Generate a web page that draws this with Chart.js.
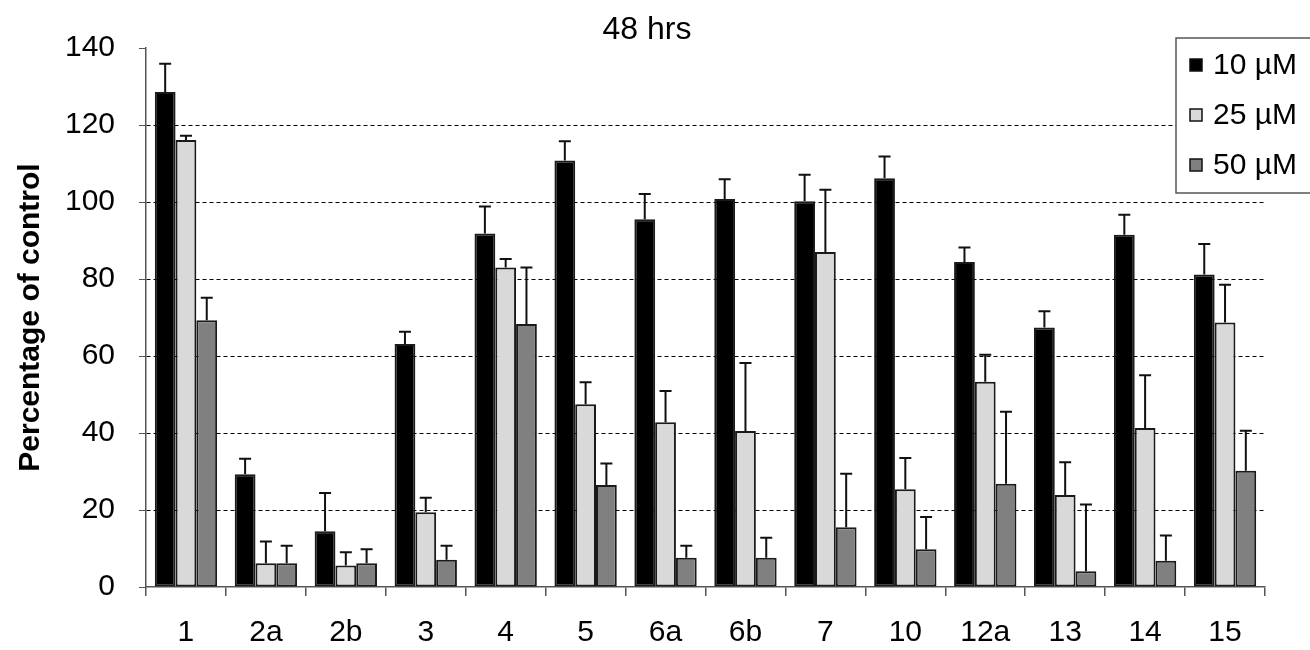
<!DOCTYPE html>
<html>
<head>
<meta charset="utf-8">
<script src="https://cdn.jsdelivr.net/npm/chart.js@4"></script>
<style>
  html, body { margin: 0; padding: 0; background: #fff; }
  #wrap { width: 1310px; height: 650px; position: relative; }
</style>
</head>
<body>
<div id="wrap"><canvas id="chart"></canvas></div>
<script>
// compounds on the x axis
const categories = ['1', '2a', '2b', '3', '4', '5', '6a', '6b', '7', '10', '12a', '13', '14', '15'];

// mean values (% of control)
const v10 = [128.6, 29.3, 14.5, 63.1, 91.8, 110.8, 95.5, 100.8, 100.2, 106.2, 84.4, 67.4, 91.5, 81.2];
const v25 = [116.1, 6.2, 5.6, 19.4, 83.0, 47.5, 42.8, 40.5, 87.0, 25.4, 53.3, 23.9, 41.3, 68.7];
const v50 = [69.3, 6.2, 6.2, 7.1, 68.3, 26.5, 7.6, 7.6, 15.5, 9.8, 26.8, 4.1, 6.8, 30.2];

// upper error (SD)
const err10 = [7.3, 4.0, 9.9, 3.2, 7.0, 5.0, 6.6, 5.1, 6.9, 5.6, 3.8, 4.2, 5.2, 7.9];
const err25 = [1.1, 5.6, 3.4, 3.8, 2.2, 5.7, 8.1, 17.7, 16.2, 8.1, 7.0, 8.5, 13.7, 9.8];
const err50 = [5.8, 4.5, 3.6, 3.6, 14.7, 5.6, 3.1, 5.2, 13.9, 8.4, 18.7, 17.3, 6.6, 10.4];

const yTicks = [0, 20, 40, 60, 80, 100, 120, 140];
const FONT = 'Arial, "Liberation Sans", sans-serif';

// error bars, only upwards, with a cap
const errorBars = {
    id: 'errorBars',
    afterDatasetsDraw(chart) {
        const ctx = chart.ctx;
        const y = chart.scales.y;
        ctx.save();
        ctx.strokeStyle = '#111';
        ctx.lineWidth = 2;
        chart.data.datasets.forEach((ds, i) => {
            const meta = chart.getDatasetMeta(i);
            meta.data.forEach((bar, j) => {
                const top = y.getPixelForValue(ds.data[j] + ds.errors[j]);
                ctx.beginPath();
                ctx.moveTo(bar.x, bar.y);
                ctx.lineTo(bar.x, top);
                ctx.moveTo(bar.x - 6, top);
                ctx.lineTo(bar.x + 6, top);
                ctx.stroke();
            });
        });
        ctx.restore();
    }
};

// title and boxed legend, drawn where the original has them
const decorations = {
    id: 'decorations',
    afterDraw(chart) {
        const ctx = chart.ctx;
        ctx.save();
        ctx.fillStyle = '#000';
        ctx.font = '32px ' + FONT;
        ctx.textAlign = 'center';
        ctx.textBaseline = 'middle';
        ctx.fillText('48 hrs', 647, 30);

        // legend box
        ctx.fillStyle = '#fff';
        ctx.fillRect(1176, 38, 140, 155);
        ctx.strokeStyle = '#555';
        ctx.lineWidth = 1.5;
        ctx.strokeRect(1176, 38, 140, 155);
        ctx.font = '30px ' + FONT;
        ctx.textAlign = 'left';
        chart.data.datasets.forEach((ds, i) => {
            const cy = 65 + i * 50;
            ctx.fillStyle = ds.backgroundColor;
            ctx.fillRect(1190, cy - 6, 12, 12);
            ctx.strokeStyle = '#111';
            ctx.lineWidth = 1.5;
            ctx.strokeRect(1190, cy - 6, 12, 12);
            ctx.fillStyle = '#000';
            ctx.fillText(ds.label, 1213, cy + 1);
        });
        ctx.restore();
    }
};

function series(label, data, errors, color) {
    return {
        label: label,
        data: data,
        errors: errors,
        backgroundColor: color,
        borderColor: '#1a1a1a',
        borderWidth: 2,
        borderSkipped: false,
        categoryPercentage: 0.78,
        barPercentage: 1.0
    };
}

const chart = new Chart(document.getElementById('chart'), {
    type: 'bar',
    data: {
        labels: categories,
        datasets: [
            series('10 µM', v10, err10, '#000000'),
            series('25 µM', v25, err25, '#d9d9d9'),
            series('50 µM', v50, err50, '#808080')
        ]
    },
    options: {
        responsive: true,
        maintainAspectRatio: false,
        animation: false,
        layout: { padding: { left: 0, top: 48, right: 45, bottom: 0 } },
        plugins: {
            legend: { display: false },
            title: { display: false },
            tooltip: { enabled: false }
        },
        scales: {
            x: {
                offset: true,
                grid: {
                    offset: true,
                    drawOnChartArea: false,
                    drawTicks: true,
                    tickLength: 9,
                    color: '#555',
                    lineWidth: 1.5
                },
                border: { color: '#555', width: 1.5 },
                ticks: {
                    color: '#000',
                    padding: 19,
                    font: { family: FONT, size: 30 }
                },
                afterFit(scale) { scale.height = 63; }
            },
            y: {
                min: 0,
                max: 140,
                afterBuildTicks(scale) { scale.ticks = yTicks.map(v => ({ value: v })); },
                grid: {
                    color: ctx => (ctx.tick && (ctx.tick.value === 0 || ctx.tick.value === 140)) ? 'rgba(0,0,0,0)' : '#000',
                    tickColor: '#555',
                    tickBorderDash: [],
                    lineWidth: 1,
                    tickLength: 7
                },
                border: { color: '#555', width: 1.5, dash: [4, 3] },
                ticks: {
                    color: '#000',
                    padding: 24,
                    font: { family: FONT, size: 30 }
                },
                title: {
                    display: true,
                    text: 'Percentage of control',
                    color: '#000',
                    font: { family: FONT, size: 30, weight: 'bold' },
                    padding: { top: 13, bottom: 0 }
                },
                afterFit(scale) { scale.width = 146; }
            }
        }
    },
    plugins: [errorBars, decorations]
});
</script>
</body>
</html>
